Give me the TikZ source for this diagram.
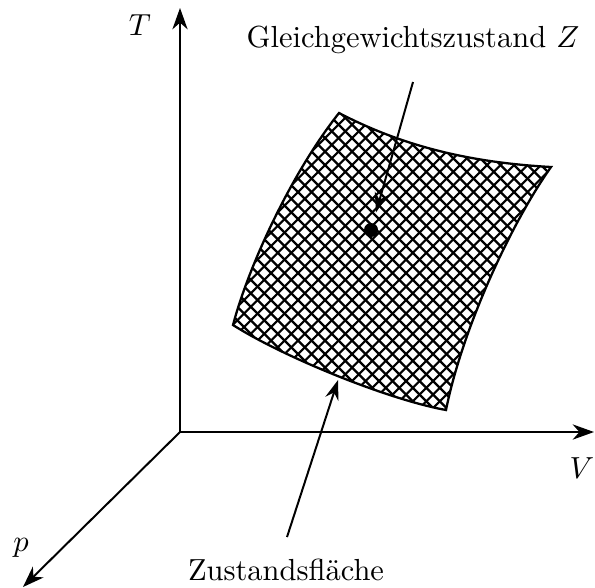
\documentclass[tikz,border=0pt]{standalone}
\usetikzlibrary{arrows.meta}

\begin{document}
\begin{tikzpicture}[
    x=0.328pt, y=-0.328pt,
    axis/.style={draw=black, line width=0.65pt, -{Stealth[length=7pt, width=5pt, inset=2.2pt]}},
    pointer/.style={draw=black, line width=0.65pt, -{Stealth[length=6.5pt, width=4.5pt, inset=2.2pt]}},
    edge/.style={draw=black, line width=0.75pt},
    hatch/.style={draw=black, line width=0.7pt},
    lbl/.style={font=\normalsize, inner sep=0pt, anchor=base},
    state/.style={circle, fill=black, inner sep=0pt, minimum size=4.6pt}
]
    \useasboundingbox (0,0) rectangle (595,587);

    % --- AXES ---
    \coordinate (O) at (180,432);
    \coordinate (Ttip) at (180,8);
    \coordinate (Vtip) at (594,432);
    \coordinate (ptip) at (23,587);
    \path [axis] (O) -- (Ttip);
    \path [axis] (O) -- (Vtip);
    \path [axis] (O) -- (ptip);

    \node [lbl] (Tlabel) at (140,35) {$T$};
    \node [lbl] (Vlabel) at (582,478) {$V$};
    \node [lbl] (plabel) at (21,551) {$p$};

    % --- SURFACE ---
    \coordinate (tl) at (339,113);
    \coordinate (tr) at (551,167);
    \coordinate (br) at (446,410);
    \coordinate (bl) at (233,325);

    \begin{scope}
        \clip (tl) .. controls (410,150) and (480,163) .. (tr)
              .. controls (510,225) and (462,330) .. (br)
              .. controls (390,400) and (285,358) .. (bl)
              .. controls (248,268) and (290,175) .. (tl) -- cycle;
        \foreach \c in {-110,-96.5,...,410}
            \path [hatch] (225,225-\c) -- (560,560-\c);
        \foreach \c in {436,449.5,...,880}
            \path [hatch] (225,\c-225) -- (560,\c-560);
    \end{scope}
    \path [edge] (tl) .. controls (410,150) and (480,163) .. (tr)
          .. controls (510,225) and (462,330) .. (br)
          .. controls (390,400) and (285,358) .. (bl)
          .. controls (248,268) and (290,175) .. (tl) -- cycle;

    % --- STATE Z ---
    \node [state] (Z) at (371,230) {};
    \node [lbl] (Zlabel) at (413,47) {Gleichgewichtszustand $Z$};
    \coordinate (zstart) at (413,82);
    \path [pointer, shorten >=3.5pt] (zstart) -- (Z);

    % --- ZUSTANDSFLAECHE ---
    \node [lbl] (Flabel) at (286,580) {Zustandsfläche};
    \coordinate (fstart) at (287,537);
    \coordinate (fend) at (338,380);
    \path [pointer] (fstart) -- (fend);

\end{tikzpicture}
\end{document}
